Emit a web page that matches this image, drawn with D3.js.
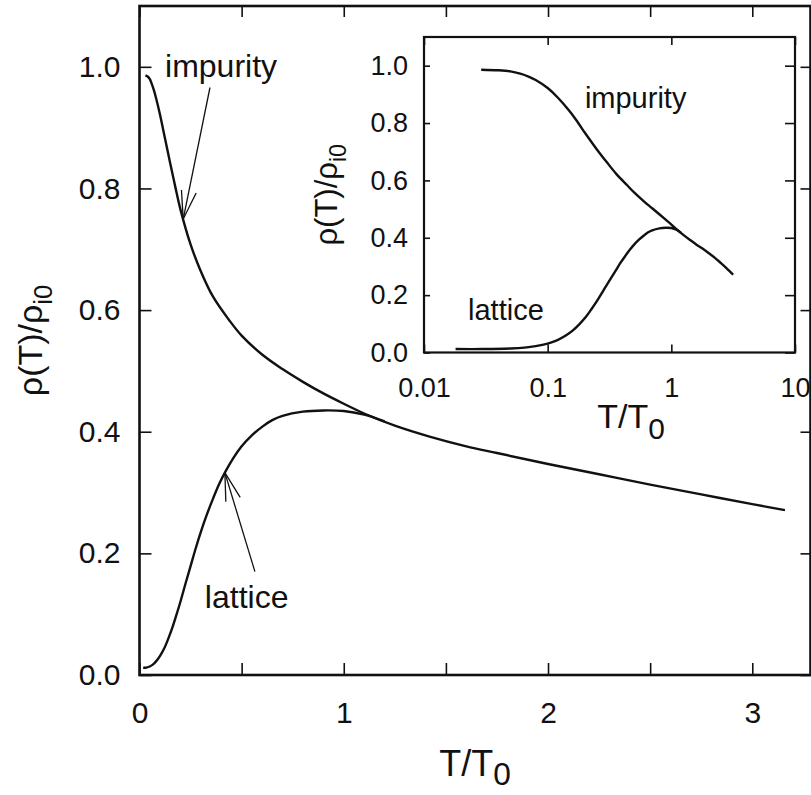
<!DOCTYPE html>
<html lang="en">
<head>
<meta charset="UTF-8">
<title>Impurity and lattice resistivity</title>
<script src="https://d3js.org/d3.v7.min.js"></script>
<style>
  body { margin: 0; background: #fff; }
  svg { display: block; font-family: "Liberation Sans", Arial, Helvetica, sans-serif; }
  .tick line { stroke: #111; stroke-width: 1.6; }
  .tick text { fill: #111; }
  .curve { fill: none; stroke: #111; stroke-width: 2.4; stroke-linejoin: round; }
  .frame { fill: #fff; stroke: #111; }
  .arrow { stroke: #111; stroke-width: 1.3; fill: none; }
</style>
</head>
<body>
<svg id="chart" width="811" height="795"></svg>
<script>
const impT   = [0.029, 0.04, 0.05, 0.06, 0.07, 0.08, 0.1, 0.12, 0.15, 0.175, 0.2, 0.25, 0.3, 0.36, 0.44, 0.5,
                0.6, 0.7, 0.8, 0.9, 1.0, 1.1, 1.25, 1.42, 1.6, 1.75, 2.0, 2.25, 2.5, 2.75, 3.0, 3.16];
const impRho = [0.986, 0.984, 0.980, 0.972, 0.962, 0.950, 0.922, 0.890, 0.842, 0.803, 0.766, 0.708, 0.664, 0.622, 0.583, 0.558,
                0.527, 0.503, 0.482, 0.463, 0.446, 0.430, 0.410, 0.392, 0.376, 0.365, 0.347, 0.330, 0.313, 0.297, 0.281, 0.271];

// lattice curve, joins the impurity curve near T/T0 = 1.1
const latT   = [0.018, 0.03, 0.05, 0.065, 0.08, 0.1, 0.12, 0.14, 0.16, 0.18, 0.2, 0.225, 0.25, 0.275, 0.3, 0.33,
                0.36, 0.39, 0.42, 0.46, 0.5, 0.55, 0.6, 0.65, 0.7, 0.8, 0.9, 1.0, 1.1, 1.2];
const latRho = [0.012, 0.012, 0.014, 0.017, 0.022, 0.031, 0.043, 0.059, 0.077, 0.098, 0.120, 0.150, 0.179, 0.208, 0.235, 0.264,
                0.290, 0.314, 0.334, 0.357, 0.376, 0.394, 0.408, 0.419, 0.426, 0.433, 0.435, 0.434, 0.428, 0.417];

const mainXTicks  = [0, 0.5, 1, 1.5, 2, 2.5, 3];
const mainXLabels = [0, 1, 2, 3];
const yTicks      = [0, 0.2, 0.4, 0.6, 0.8, 1.0];
const insetXTicks = [0.01, 0.1, 1, 10];

const series = {
  impurity: impT.map((t, i) => [t, impRho[i]]),
  lattice:  latT.map((t, i) => [t, latRho[i]])
};

const svg = d3.select("#chart");

function rhoAt(name, t) {
  const pts = series[name];
  const i = d3.bisector(d => d[0]).left(pts, t);
  if (i <= 0) return pts[0][1];
  if (i >= pts.length) return pts[pts.length - 1][1];
  const [t0, r0] = pts[i - 1], [t1, r1] = pts[i];
  return r0 + (r1 - r0) * (t - t0) / (t1 - t0);
}

function cleanAxis(g, fontSize) {
  g.select(".domain").remove();
  g.attr("font-size", null).attr("font-family", null);
  g.selectAll("text").attr("font-size", fontSize);
}

function arrow(g, x1, y1, x2, y2) {
  // shaft from label (x1,y1) to tip (x2,y2) with open head
  g.append("line").attr("class", "arrow")
    .attr("x1", x1).attr("y1", y1).attr("x2", x2).attr("y2", y2);
  const ang = Math.atan2(y1 - y2, x1 - x2);
  const len = 29, spread = 15 * Math.PI / 180;
  [-spread, spread].forEach(s => {
    g.append("line").attr("class", "arrow")
      .attr("x1", x2).attr("y1", y2)
      .attr("x2", x2 + len * Math.cos(ang + s))
      .attr("y2", y2 + len * Math.sin(ang + s));
  });
}

function rhoTitle(g, x, y, size) {
  const t = g.append("text")
    .attr("transform", `translate(${x},${y}) rotate(-90)`)
    .attr("text-anchor", "middle")
    .attr("font-size", size)
    .attr("fill", "#111");
  t.append("tspan").text("\u03c1(T)/\u03c1");
  t.append("tspan").attr("font-size", size * 0.75).attr("dy", size * 0.28).text("i0");
}

function tTitle(g, x, y, size, sub) {
  const t = g.append("text")
    .attr("x", x).attr("y", y)
    .attr("text-anchor", "middle")
    .attr("font-size", size)
    .attr("fill", "#111");
  t.append("tspan").text("T/T");
  t.append("tspan").attr("font-size", size * 0.88).attr("dy", sub).text("0");
}

// ---------- main panel ----------
const x = d3.scaleLinear().domain([0, 3.285]).range([139.5, 810.5]);
const y = d3.scaleLinear().domain([0, 1.1]).range([675, 6]);

svg.append("rect").attr("class", "frame")
  .attr("x", x.range()[0]).attr("y", y.range()[1])
  .attr("width", x.range()[1] - x.range()[0])
  .attr("height", y.range()[0] - y.range()[1])
  .attr("stroke-width", 2.6);

svg.append("g").attr("transform", `translate(0,${y(0)})`)
  .call(d3.axisBottom(x).tickValues(mainXTicks).tickSize(-12).tickPadding(27)
    .tickFormat(d => mainXLabels.includes(d) ? d : ""))
  .call(g => cleanAxis(g, 30));

svg.append("g").attr("transform", `translate(0,${y.range()[1]})`)
  .call(d3.axisTop(x).tickValues(mainXTicks).tickSize(-11).tickFormat(""))
  .call(g => cleanAxis(g, 30));

svg.append("g").attr("transform", `translate(${x.range()[0]},0)`)
  .call(d3.axisLeft(y).tickValues(yTicks).tickSize(-12).tickPadding(19).tickFormat(d3.format(".1f")))
  .call(g => cleanAxis(g, 30));

svg.append("g").attr("transform", `translate(${x.range()[1]},0)`)
  .call(d3.axisRight(y).tickValues(yTicks).tickSize(-10).tickFormat(""))
  .call(g => cleanAxis(g, 30));

const line = d3.line().x(d => x(d[0])).y(d => y(d[1])).curve(d3.curveCatmullRom.alpha(0.5));
Object.keys(series).forEach(k => {
  svg.append("path").attr("class", "curve").attr("d", line(series[k]));
});

tTitle(svg, (x.range()[0] + x.range()[1]) / 2, 776, 36, 9);
rhoTitle(svg, 42, (y.range()[0] + y.range()[1]) / 2, 34);

// labels with arrows, in data units
const mainNotes = [
  { text: "impurity", name: "impurity", tx: 0.125, ty: 0.984, tailT: 0.345, tailR: 0.966, tipT: 0.214 },
  { text: "lattice",  name: "lattice",  tx: 0.32,  ty: 0.11,  tailT: 0.565, tailR: 0.17,  tipT: 0.418 }
];
mainNotes.forEach(n => {
  svg.append("text").attr("x", x(n.tx)).attr("y", y(n.ty))
    .attr("font-size", 32).attr("fill", "#111").text(n.text);
  arrow(svg, x(n.tailT), y(n.tailR), x(n.tipT), y(rhoAt(n.name, n.tipT)));
});

// ---------- inset ----------
const xi = d3.scaleLog().domain([0.01, 10]).range([424, 795]);
const yi = d3.scaleLinear().domain([0, 1.1]).range([352.5, 37]);
const inset = svg.append("g");

inset.append("rect").attr("class", "frame")
  .attr("x", xi.range()[0]).attr("y", yi.range()[1])
  .attr("width", xi.range()[1] - xi.range()[0])
  .attr("height", yi.range()[0] - yi.range()[1])
  .attr("stroke-width", 2.2);

inset.append("g").attr("transform", `translate(0,${yi(0)})`)
  .call(d3.axisBottom(xi).tickValues(insetXTicks).tickSize(-8).tickPadding(25).tickFormat(d => d))
  .call(g => cleanAxis(g, 27));

inset.append("g").attr("transform", `translate(0,${yi.range()[1]})`)
  .call(d3.axisTop(xi).tickValues(insetXTicks).tickSize(-8).tickFormat(""))
  .call(g => cleanAxis(g, 27));

inset.append("g").attr("transform", `translate(${xi.range()[0]},0)`)
  .call(d3.axisLeft(yi).tickValues(yTicks).tickSize(-6).tickPadding(16).tickFormat(d3.format(".1f")))
  .call(g => cleanAxis(g, 27));

inset.append("g").attr("transform", `translate(${xi.range()[1]},0)`)
  .call(d3.axisRight(yi).tickValues(yTicks).tickSize(-10).tickFormat(""))
  .call(g => cleanAxis(g, 27));

const lineI = d3.line().x(d => xi(d[0])).y(d => yi(d[1])).curve(d3.curveCatmullRom.alpha(0.5));
Object.keys(series).forEach(k => {
  inset.append("path").attr("class", "curve").attr("stroke-width", 2).attr("d", lineI(series[k]));
});

const insetNotes = [
  { text: "impurity", tx: 0.2,    ty: 0.853 },
  { text: "lattice",  tx: 0.0227, ty: 0.113 }
];
insetNotes.forEach(n => {
  inset.append("text").attr("x", xi(n.tx)).attr("y", yi(n.ty))
    .attr("font-size", 29).attr("fill", "#111").text(n.text);
});

tTitle(inset, 631, 428, 34, 11);
rhoTitle(inset, 337, (yi.range()[0] + yi.range()[1]) / 2, 31);
</script>
</body>
</html>
